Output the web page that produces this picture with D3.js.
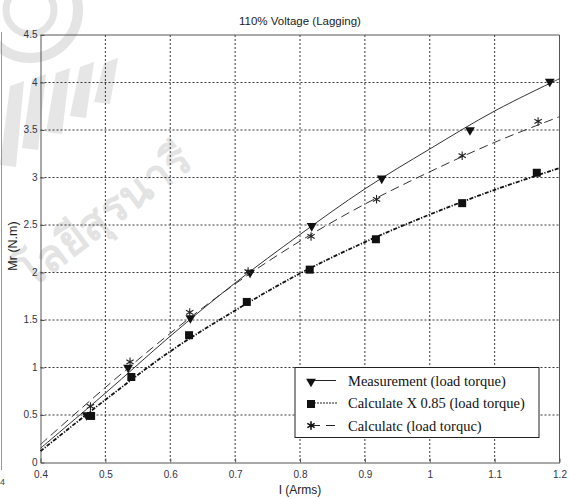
<!DOCTYPE html>
<html>
<head>
<meta charset="utf-8">
<script src="https://cdn.jsdelivr.net/npm/d3@7"></script>
<style>
  html, body { margin: 0; padding: 0; background: #fff; }
  svg { display: block; }
</style>
</head>
<body>
<svg id="chart" width="569" height="499"></svg>
<script>
// Measured points (current in Arms, torque in N.m)
const measX = [0.471, 0.535, 0.631, 0.723, 0.818, 0.926, 1.062, 1.185];
const measY = [0.50, 1.00, 1.52, 2.00, 2.49, 2.99, 3.50, 4.01];

const calc85X = [0.478, 0.540, 0.629, 0.718, 0.815, 0.917, 1.050, 1.165];
const calc85Y = [0.49, 0.90, 1.34, 1.69, 2.03, 2.35, 2.73, 3.05];

const calcX = [0.477, 0.538, 0.630, 0.720, 0.817, 0.918, 1.050, 1.167];
const calcY = [0.59, 1.06, 1.58, 2.01, 2.38, 2.77, 3.23, 3.59];

// Fitted trend curves sampled across the current range
const fitX = [0.4, 0.5, 0.6, 0.7, 0.8, 0.9, 1.0, 1.1, 1.2];
const measFit = [0.15, 0.73, 1.33, 1.89, 2.40, 2.88, 3.30, 3.70, 4.04];
const calc85Fit = [0.12, 0.66, 1.17, 1.60, 1.99, 2.32, 2.61, 2.87, 3.10];
const calcFit = [0.19, 0.79, 1.36, 1.88, 2.33, 2.72, 3.06, 3.37, 3.64];

const xTicks = [0.4, 0.5, 0.6, 0.7, 0.8, 0.9, 1, 1.1, 1.2];
const yTicks = [0, 0.5, 1, 1.5, 2, 2.5, 3, 3.5, 4, 4.5];

const legendLabels = [
  "Measurement (load torque)",
  "Calculate X 0.85 (load torque)",
  "Calculatc (load torquc)"
];

const svg = d3.select("#chart");
const plot = { left: 40.5, right: 559.5, top: 35, bottom: 462.5 };

const x = d3.scaleLinear().domain([0.4, 1.2]).range([plot.left, plot.right]);
const y = d3.scaleLinear().domain([0, 4.5]).range([plot.bottom, plot.top]);

// faint university emblem and name behind the chart
const wm = svg.append("g").attr("fill", "none").attr("stroke", "#e4e4e4");
wm.append("circle").attr("cx", 30).attr("cy", 10).attr("r", 48).attr("stroke-width", 10);
wm.append("circle").attr("cx", 30).attr("cy", 10).attr("r", 24).attr("stroke-width", 7);
const fan = svg.append("g").attr("fill", "#e6e6e6");
[[0, 165, 8], [22, 148, 13], [46, 132, 18], [70, 116, 23], [94, 102, 28]].forEach(([px, py, h]) => {
  fan.append("path")
    .attr("d", `M${px},${py} L${px + 10},${py - 95 + h * 2} L${px + 24},${py - 100 + h * 2} L${px + 16},${py + 2} Z`);
});
svg.append("text")
  .attr("x", 0).attr("y", 0)
  .attr("transform", "translate(30,290) rotate(-37)")
  .attr("font-family", "'Noto Sans', 'DejaVu Sans', sans-serif")
  .attr("font-size", 44)
  .attr("font-weight", "bold")
  .attr("fill", "#e3e3e3")
  .text("โลยีสุรนารี");

// stray edge from adjacent page content
svg.append("line").attr("x1", 1.5).attr("x2", 1.5).attr("y1", 32).attr("y2", 470)
  .attr("stroke", "#999").attr("stroke-width", 1);
svg.append("text").attr("x", 0).attr("y", 485)
  .attr("font-family", "'Liberation Sans', Arial, sans-serif").attr("font-size", 9)
  .attr("fill", "#444").text("4");

// grid
const grid = svg.append("g").attr("stroke", "#222").attr("stroke-width", 0.9)
  .attr("stroke-dasharray", "2,2");
grid.selectAll(".gx").data(xTicks.slice(1, -1)).join("line")
  .attr("x1", d => x(d)).attr("x2", d => x(d))
  .attr("y1", plot.top).attr("y2", plot.bottom);
grid.selectAll(".gy").data(yTicks.slice(1, -1)).join("line")
  .attr("x1", plot.left).attr("x2", plot.right)
  .attr("y1", d => y(d)).attr("y2", d => y(d));

// axes
const fmt = d => String(d);
const xAxis = svg.append("g").attr("transform", `translate(0,${plot.bottom})`)
  .call(d3.axisBottom(x).tickValues(xTicks).tickFormat(fmt).tickSizeInner(-4).tickSizeOuter(0).tickPadding(8));
const yAxis = svg.append("g").attr("transform", `translate(${plot.left},0)`)
  .call(d3.axisLeft(y).tickValues(yTicks).tickFormat(fmt).tickSizeInner(-4).tickSizeOuter(0).tickPadding(3));
[xAxis, yAxis].forEach(a => {
  a.select(".domain").attr("stroke", "#555");
  a.selectAll(".tick line").attr("stroke", "#555");
  a.selectAll("text")
    .attr("font-family", "'Liberation Sans', Arial, sans-serif")
    .attr("font-size", 10).attr("fill", "#334");
});
xAxis.selectAll("text").attr("dy", "0.71em");
yAxis.selectAll("text").attr("dy", "0.25em");
// top and right frame
svg.append("line").attr("x1", plot.left).attr("x2", plot.right).attr("y1", plot.top).attr("y2", plot.top).attr("stroke", "#555");
svg.append("line").attr("x1", plot.right).attr("x2", plot.right).attr("y1", plot.top).attr("y2", plot.bottom).attr("stroke", "#555");

// titles
svg.append("text").attr("x", 300).attr("y", 25).attr("text-anchor", "middle")
  .attr("font-family", "'Liberation Sans', Arial, sans-serif").attr("font-size", 11.5)
  .attr("fill", "#222").text("110% Voltage (Lagging)");
svg.append("text").attr("x", 300).attr("y", 494).attr("text-anchor", "middle")
  .attr("font-family", "'Liberation Sans', Arial, sans-serif").attr("font-size", 12)
  .attr("fill", "#222").text("I (Arms)");
svg.append("text").attr("transform", "translate(17,246) rotate(-90)").attr("text-anchor", "middle")
  .attr("font-family", "'Liberation Sans', Arial, sans-serif").attr("font-size", 12.5)
  .attr("fill", "#222").text("Mr (N.m)");

// curves
const line = (xs, ys) => d3.line().curve(d3.curveCatmullRom)
  .x((d, i) => x(xs[i])).y(d => y(d))(ys);
const curves = svg.append("g").attr("fill", "none");
curves.append("path").attr("d", line(fitX, measFit)).attr("stroke", "#333").attr("stroke-width", 1);
curves.append("path").attr("d", line(fitX, calcFit)).attr("stroke", "#333").attr("stroke-width", 1)
  .attr("stroke-dasharray", "9,5");
curves.append("path").attr("d", line(fitX, calc85Fit)).attr("stroke", "#111").attr("stroke-width", 1.8)
  .attr("stroke-dasharray", "4,1.5,1.2,1.5");

// markers
const tri = d3.symbol().type(d3.symbolTriangle).size(42)();
const star = d3.symbol().type(d3.symbolAsterisk).size(50)();
const mk = svg.append("g");
mk.selectAll(".tri").data(measY).join("path")
  .attr("d", tri)
  .attr("transform", (d, i) => `translate(${x(measX[i])},${y(d)}) rotate(180)`)
  .attr("fill", "#111");
mk.selectAll(".sq").data(calc85Y).join("rect")
  .attr("x", (d, i) => x(calc85X[i]) - 4).attr("y", d => y(d) - 4)
  .attr("width", 8).attr("height", 8).attr("fill", "#111");
mk.selectAll(".st").data(calcY).join("path")
  .attr("d", star)
  .attr("transform", (d, i) => `translate(${x(calcX[i])},${y(d)})`)
  .attr("fill", "none").attr("stroke", "#222").attr("stroke-width", 1.1);

// legend
const lg = svg.append("g");
lg.append("rect").attr("x", 295).attr("y", 367.5).attr("width", 244).attr("height", 70)
  .attr("fill", "#fff").attr("stroke", "#222").attr("stroke-width", 1);
const rowsY = [380.5, 403, 425.5];
lg.selectAll(".lt").data(legendLabels).join("text")
  .attr("x", 348).attr("y", (d, i) => rowsY[i] + 5)
  .attr("font-family", "'Liberation Serif', 'Times New Roman', serif")
  .attr("font-size", 14.5).attr("fill", "#111").text(d => d);
// legend samples
lg.append("line").attr("x1", 311).attr("x2", 336).attr("y1", rowsY[0]).attr("y2", rowsY[0])
  .attr("stroke", "#222").attr("stroke-width", 1);
lg.append("path").attr("d", tri).attr("transform", `translate(311,${rowsY[0] + 1}) rotate(180)`).attr("fill", "#111");
lg.append("line").attr("x1", 311).attr("x2", 338).attr("y1", rowsY[1]).attr("y2", rowsY[1])
  .attr("stroke", "#222").attr("stroke-width", 1.2).attr("stroke-dasharray", "2,1");
lg.append("rect").attr("x", 307).attr("y", rowsY[1] - 3).attr("width", 8).attr("height", 8).attr("fill", "#111");
lg.append("line").attr("x1", 311).attr("x2", 336).attr("y1", rowsY[2]).attr("y2", rowsY[2])
  .attr("stroke", "#222").attr("stroke-width", 1).attr("stroke-dasharray", "9,6");
lg.append("path").attr("d", star).attr("transform", `translate(311,${rowsY[2]})`)
  .attr("fill", "none").attr("stroke", "#111").attr("stroke-width", 1.6);
</script>
</body>
</html>
